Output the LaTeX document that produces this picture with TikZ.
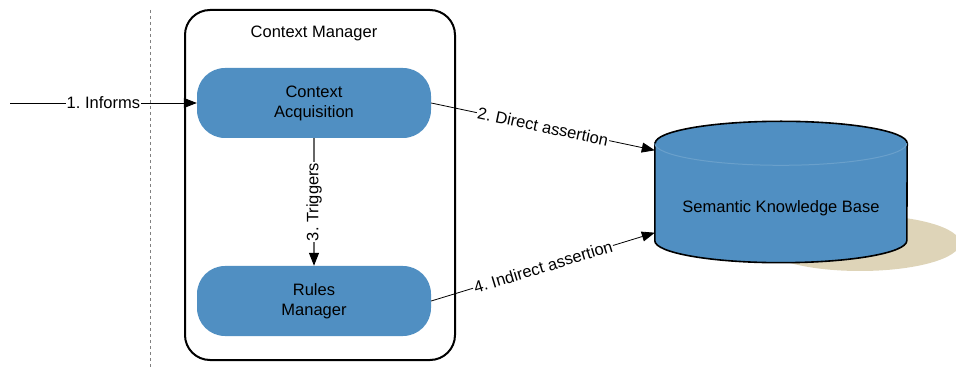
\documentclass[tikz,border=0pt]{standalone}
\usepackage{fontspec}
\setmainfont{Liberation Sans}
\frenchspacing
\usetikzlibrary{arrows.meta}
\definecolor{boxblue}{RGB}{80,143,194}
\definecolor{shadowtan}{RGB}{222,212,184}

\begin{document}
\begin{tikzpicture}[x=1pt,y=1pt,
  txt/.style = {font=\fontsize{16.5}{20}\selectfont},
  comp/.style = {txt, fill=boxblue, rounded corners=28pt, minimum width=234pt, minimum height=70pt, align=center},
  flow/.style = {line width=0.8pt, -{Triangle[length=13pt,width=10pt,color=black]}},
  lbl/.style = {txt, fill=white, inner sep=1pt}]
  \useasboundingbox (0,0) rectangle (956,367);
  % boundary
  \draw[dashed, gray, line width=0.8pt] (150,357) -- (150,0);
  % context manager
  \draw[line width=2pt, rounded corners=25pt] (185,7) rectangle (455,357);
  \node[txt] (cmtitle) at (314,334) {Context Manager};
  \node[comp] (acq) at (314,264) {Context\\Acquisition};
  \node[comp] (rules) at (314,66) {Rules\\Manager};
  % knowledge base
  \fill[shadowtan] (860,124) ellipse (100pt and 28pt);
  \node[minimum width=252pt, minimum height=97pt, inner sep=0pt] (skb) at (781,175) {};
  \filldraw[fill=boxblue, line width=1.6pt]
    (skb.north west) -- (skb.south west) arc (180:360:126pt and 22pt)
    -- (skb.north east) arc (0:180:126pt and 22pt) -- cycle;
  \draw[boxblue!85!white, line width=1pt] (skb.north west) arc (180:360:126pt and 22pt);
  \node[txt] (skbname) at ([yshift=-16pt]skb.center) {Semantic Knowledge Base};
  % flows
  \coordinate (src) at (10,264);
  \draw[flow] (src) -- node[lbl] {1. Informs} (acq);
  \draw[flow, black!60, line width=1.2pt] (acq) -- node[lbl, rotate=90, text=black] {3. Triggers} (rules);
  \draw[flow] (acq.east) -- node[lbl, sloped] {2. Direct assertion} ([yshift=-7pt]skb.north west);
  \draw[flow] (rules.east) -- node[lbl, sloped] {4. Indirect assertion} ([yshift=8pt]skb.south west);
\end{tikzpicture}
\end{document}
